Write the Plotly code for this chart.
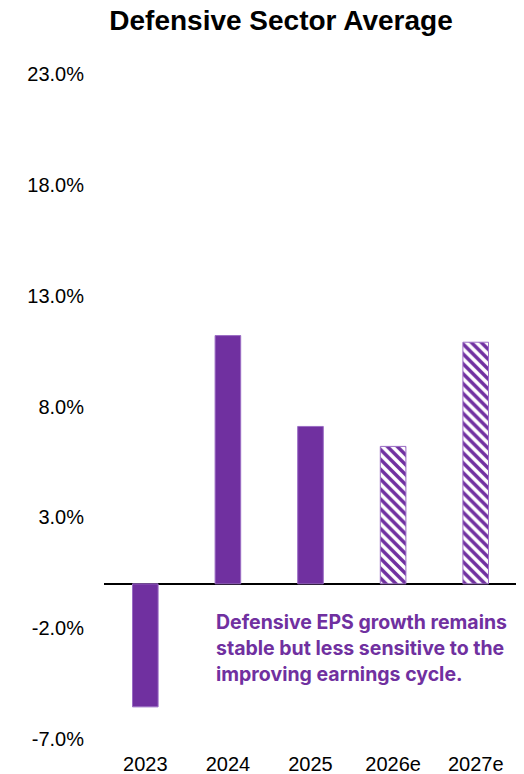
import plotly.graph_objects as go

categories = ["2023", "2024", "2025", "2026e", "2027e"]
eps_growth = [-5.55, 11.2, 7.1, 6.2, 10.9]
patterns = ["", "", "", "\\", "\\"]
y_ticks = [-7, -2, 3, 8, 13, 18, 23]
y_tick_labels = [f"{v:.1f}%" for v in y_ticks]
note_lines = [
    "Defensive EPS growth remains",
    "stable but less sensitive to the",
    "improving earnings cycle.",
]

PURPLE = "#7030A0"

fig = go.Figure()
fig.add_trace(go.Bar(
    x=categories,
    y=eps_growth,
    marker=dict(
        color=PURPLE,
        line=dict(color="#9A6CC4", width=1),
        pattern=dict(shape=patterns, fgcolor=PURPLE, bgcolor="white",
                     size=7, solidity=0.5, fillmode="replace"),
    ),
    showlegend=False,
    hoverinfo="x+y",
))

# page body has an 8px margin, so the figure is drawn 8px smaller
W, H = 516, 766
L, R, T, B = 96, 7, 66, 35

for i, line in enumerate(note_lines):
    fig.add_annotation(
        x=(206 - L) / (W - L - R), y=1 - (614 + 26 * i - T) / (H - T - B),
        xref="paper", yref="paper",
        text=f"<b>{line}</b>", showarrow=False,
        xanchor="left", yanchor="middle",
        font=dict(family="Inter", size=19.5, color=PURPLE),
    )

fig.update_layout(
    width=W, height=H,
    margin=dict(l=L, r=R, t=T, b=B),
    plot_bgcolor="white", paper_bgcolor="white",
    bargap=0.69,
    title=dict(text="<b>Defensive Sector Average</b>",
               x=273 / W, xanchor="center", y=1.0, yanchor="top",
               pad=dict(t=2),
               font=dict(family="Arial", size=28, color="black")),
    font=dict(family="Arial", color="black"),
)
fig.update_yaxes(
    range=[-7, 23], tickvals=y_ticks, ticktext=y_tick_labels,
    showgrid=False, zeroline=True, zerolinecolor="black", zerolinewidth=2,
    showline=False, tickfont=dict(family="Arial", size=20, color="black"),
    ticks="", ticklabelstandoff=19, automargin=False,
)
fig.update_xaxes(
    showgrid=False, showline=False, ticks="",
    tickfont=dict(family="Arial", size=20, color="black"),
    ticklabelstandoff=11, automargin=False,
)

fig.write_html("out.html")
